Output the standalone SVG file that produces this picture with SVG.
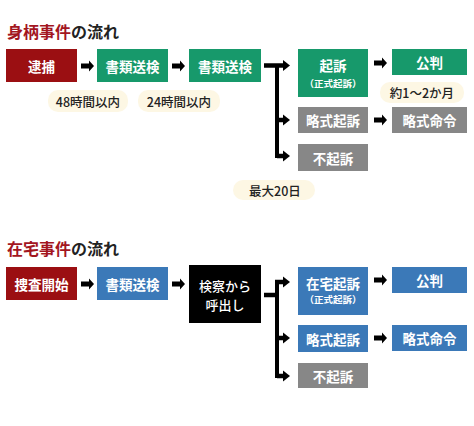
<svg xmlns="http://www.w3.org/2000/svg" xmlns:xlink="http://www.w3.org/1999/xlink" width="474" height="426" viewBox="0 0 474 426">
<style>
text{font-family:"Noto Sans CJK JP","Noto Sans",sans-serif;}
.title{font-size:16px;font-weight:700;fill:#222;}
.tr{fill:#a3161f;}
.bt{font-size:13.5px;font-weight:700;fill:#fff;text-anchor:middle;dominant-baseline:central;}
.bm{font-size:13px;font-weight:500;fill:#fff;text-anchor:middle;dominant-baseline:central;}
.st{font-size:9.5px;font-weight:700;fill:#fff;text-anchor:middle;dominant-baseline:central;}
.lb{font-size:12.5px;font-weight:500;fill:#222;text-anchor:middle;dominant-baseline:central;}
.pill{fill:#fdf7e4;}
.red{fill:#9b0f12;}
.green{fill:#17996b;}
.gray{fill:#878787;}
.blue{fill:#3b79b8;}
.black{fill:#000;}
.ln{stroke:#000;fill:none;stroke-width:4.5;}
.vl{stroke:#000;fill:none;stroke-width:4;}
</style>
<defs>
<path id="ba" d="M0,-2.5 H8 V-5.5 L13,0 L8,5.5 V2.5 H0Z" fill="#000"/>
<path id="ah" d="M0,-5.5 L7,0 L0,5.5Z" fill="#000"/>
</defs>

<text class="title" x="7" y="37.5"><tspan class="tr">身柄事件</tspan>の流れ</text>
<text class="title" x="7" y="255"><tspan class="tr">在宅事件</tspan>の流れ</text>

<!-- top section nodes -->
<g id="taiho"><rect class="red" x="6" y="49" width="71" height="33"/><text class="bt" x="41.5" y="65.5">逮捕</text></g>
<g id="soken1"><rect class="green" x="97" y="49" width="71" height="33"/><text class="bt" x="132.5" y="65.5">書類送検</text></g>
<g id="soken2"><rect class="green" x="189" y="49" width="72" height="33"/><text class="bt" x="225" y="65.5">書類送検</text></g>
<g id="kiso"><rect class="green" x="298" y="49" width="70" height="48"/><text class="bt" x="333" y="65">起訴</text><text class="st" x="333" y="83">（正式起訴）</text></g>
<g id="kohan1"><rect class="green" x="392" y="49" width="75" height="26"/><text class="bt" x="429.5" y="62">公判</text></g>
<g id="ryakushiki1"><rect class="gray" x="298" y="107" width="70" height="26"/><text class="bt" x="333" y="120">略式起訴</text></g>
<g id="meirei1"><rect class="gray" x="392" y="107" width="75" height="26"/><text class="bt" x="429.5" y="120">略式命令</text></g>
<g id="fukiso1"><rect class="gray" x="298" y="144" width="70" height="27"/><text class="bt" x="333" y="157.5">不起訴</text></g>

<g id="label48"><rect class="pill" x="48" y="90" width="80" height="22" rx="10"/><text class="lb" x="88" y="101">48時間以内</text></g>
<g id="label24"><rect class="pill" x="138" y="90" width="82" height="22" rx="10"/><text class="lb" x="179" y="101">24時間以内</text></g>
<g id="label1-2"><rect class="pill" x="380" y="82" width="84" height="21" rx="10"/><text class="lb" x="422" y="92.5">約1〜2か月</text></g>
<g id="label20"><rect class="pill" x="233" y="180" width="82" height="20" rx="10"/><text class="lb" x="275" y="190">最大20日</text></g>

<!-- bottom section nodes -->
<g id="sosa"><rect class="red" x="6" y="267" width="71" height="33"/><text class="bt" x="41.5" y="283.5">捜査開始</text></g>
<g id="soken3"><rect class="blue" x="97" y="267" width="71" height="33"/><text class="bt" x="132.5" y="283.5">書類送検</text></g>
<g id="yobidashi"><rect class="black" x="189" y="265" width="72" height="58"/><text class="bm" x="225" y="285.5">検察から</text><text class="bm" x="225" y="304">呼出し</text></g>
<g id="zaitaku"><rect class="blue" x="298" y="267" width="70" height="48"/><text class="bt" x="333" y="283">在宅起訴</text><text class="st" x="333" y="298.5">（正式起訴）</text></g>
<g id="kohan2"><rect class="blue" x="392" y="267" width="75" height="26"/><text class="bt" x="429.5" y="280">公判</text></g>
<g id="ryakushiki2"><rect class="blue" x="298" y="325" width="70" height="27"/><text class="bt" x="333" y="338.5">略式起訴</text></g>
<g id="meirei2"><rect class="blue" x="392" y="325" width="75" height="26"/><text class="bt" x="429.5" y="338">略式命令</text></g>
<g id="fukiso2"><rect class="gray" x="298" y="363" width="70" height="25"/><text class="bt" x="333" y="375.5">不起訴</text></g>

<!-- connectors -->
<g id="connectors">
<use xlink:href="#ba" x="81" y="66"/>
<use xlink:href="#ba" x="172" y="66"/>
<use xlink:href="#ba" x="374" y="63"/>
<use xlink:href="#ba" x="374" y="120"/>
<path class="ln" d="M264,65.5 H284"/>
<path class="vl" d="M277,65 V158"/>
<path class="ln" d="M277,120 H284 M277,156 H284"/>
<use xlink:href="#ah" x="283" y="65.5"/>
<use xlink:href="#ah" x="283" y="120"/>
<use xlink:href="#ah" x="283" y="156"/>

<use xlink:href="#ba" x="81" y="284"/>
<use xlink:href="#ba" x="172" y="284"/>
<use xlink:href="#ba" x="374" y="280"/>
<use xlink:href="#ba" x="374" y="338"/>
<path class="ln" d="M264,295 H277"/>
<path class="vl" d="M277,280 V378"/>
<path class="ln" d="M275,282 H284 M277,338 H284 M277,376 H284"/>
<use xlink:href="#ah" x="283" y="282"/>
<use xlink:href="#ah" x="283" y="338"/>
<use xlink:href="#ah" x="283" y="376"/>
</g>
</svg>
